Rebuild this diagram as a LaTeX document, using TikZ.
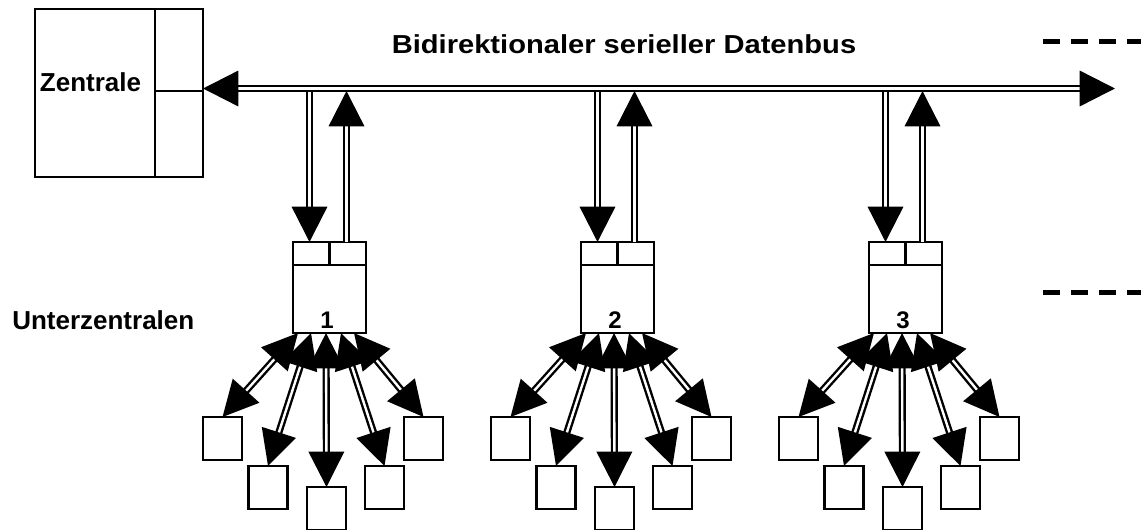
\documentclass[tikz,border=0pt]{standalone}
\usepackage{fontspec}
\setmainfont{Liberation Sans}
\usetikzlibrary{arrows.meta,calc}
\begin{document}
\begin{tikzpicture}[x=0.75pt,y=-0.75pt,
  box/.style={draw, line width=1.9pt, inner sep=0pt, outer sep=0pt},
  lbl/.style={font=\bfseries\fontsize{19.5}{23}\selectfont, inner sep=0pt},
  numlbl/.style={font=\bfseries\fontsize{18}{22}\selectfont, inner sep=0pt},
  thin/.style={line width=1.9pt},
  dbl/.style={draw, line width=1.8pt, double, double distance=1.8pt},
  tipend/.style={-{Triangle[length=26.5pt,width=26.5pt]}},
  tipboth/.style={{Triangle[length=26.5pt,width=26.5pt]}-{Triangle[length=26.5pt,width=26.5pt]}},
  dashline/.style={line width=3.75pt, dash pattern=on 12.75pt off 8.25pt}
]
\useasboundingbox (0,0) rectangle (1141,529);

% Zentrale
\node[box, minimum width=126pt, minimum height=126pt] (Z) at (119,93) {};
\draw[thin] ($(Z.north east)+(-48,0)$) -- ($(Z.south east)+(-48,0)$);
\draw[thin] ($(Z.east)+(-48,-2)$) -- ($(Z.east)+(0,-2)$);
\node[lbl, anchor=base] (ZT) at (90.5,91) {Zentrale};

% titles
\node[lbl, anchor=base] (T) at (624,53) {\scalebox{1.12}[1]{Bidirektionaler serieller Datenbus}};
\node[lbl, anchor=base west] (UZ) at (12,329) {Unterzentralen};

% dashed continuations
\coordinate (da1) at (1043,41.5);
\coordinate (da2) at (1150,41.5);
\coordinate (db1) at (1043,292);
\coordinate (db2) at (1150,292);
\draw[dashline] (da1) -- (da2);
\draw[dashline] (db1) -- (db2);

% units
\foreach \i/\dx in {1/0, 2/288, 3/576}{
  \node[box, minimum width=54.75pt, minimum height=68.25pt] (U\i) at (329.5+\dx,287.5) {};
  \draw[thin] ($(U\i.north west)+(0,23)$) -- ($(U\i.north east)+(0,23)$);
  \draw[thin] (U\i.north) -- ($(U\i.north)+(0,23)$);
  \node[numlbl, anchor=base] (N\i) at ($(U\i.south)+(-2.5,-5)$) {\i};
  \coordinate (d\i) at (309.5+\dx,91);
  \coordinate (u\i) at (346.5+\dx,91);
  \draw[dbl, tipend] (d\i) -- (d\i |- U\i.north);
  \draw[dbl, tipend] (u\i |- U\i.north) -- (u\i);
  \foreach \k/\lx/\ly/\fx in {a/222.5/438.5/-31.5, b/268/487.5/-18.5, c/326.5/508.5/-3.5, d/384.5/487.5/11.5, e/423.5/438.5/24.5}{
    \node[box, minimum width=29.25pt, minimum height=32.25pt] (L\i\k) at (\lx+\dx,\ly) {};
    \draw[dbl, tipboth] ($(U\i.south)+(\fx,0)$) -- (L\i\k.north);
  }
}

% bus
\coordinate (busL) at (203,88.5);
\coordinate (busR) at (1115,88.5);
\draw[dbl, tipboth] (busL) -- (busR);
\end{tikzpicture}
\end{document}
